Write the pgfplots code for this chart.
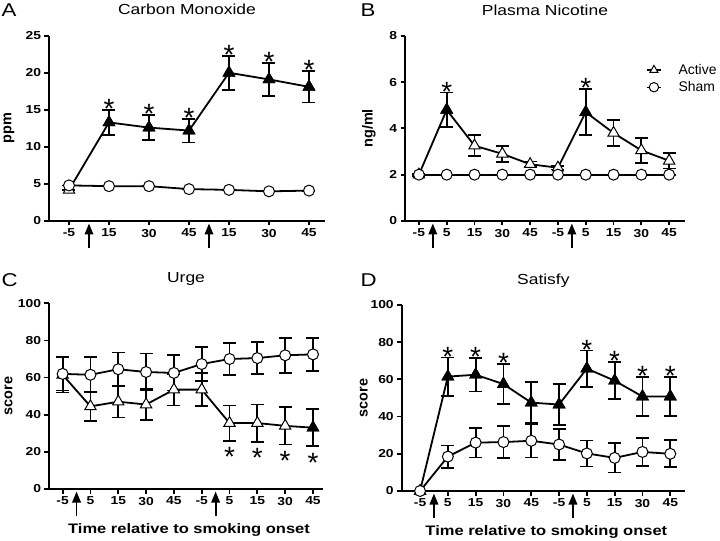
\documentclass[border=0pt]{standalone}
\usepackage{fontspec}
\setmainfont{Liberation Sans}
\usepackage{graphicx}
\usepackage{pgfplots}
\pgfplotsset{compat=1.18}
\usetikzlibrary{arrows.meta}
\newcommand{\sx}[1]{\scalebox{1.2}[1]{#1}}
\newcommand{\arr}[1]{\draw[line width=1.9bp, -{Triangle[length=11bp,width=8.5bp]}] ([yshift=-27bp]axis cs:#1,0) -- ([yshift=-2.5bp]axis cs:#1,0);}
\newcommand{\stU}[2]{\node[anchor=base, inner sep=0, font=\fontsize{28}{28}\selectfont] at ([yshift=-8.6bp]axis cs:#1,#2) {*};}
\newcommand{\stD}[2]{\node[anchor=base, inner sep=0, font=\fontsize{28}{28}\selectfont] at ([yshift=-26bp]axis cs:#1,#2) {*};}
\pgfplotsset{
  panel/.style={
    scale only axis,
    axis x line*=bottom, axis y line*=left,
    axis line style={line width=1.8bp, -},
    every tick/.style={line width=1.8bp, black},
    major tick length=4.5bp,
    tick align=outside,
    clip=false,
    ymin=0,
    tick label style={font=\bfseries\fontsize{11.6}{13}\selectfont},
    /pgf/number format/assume math mode=true,
    yticklabel={\sx{\pgfmathprintnumber{\tick}}},
    every axis y label/.style={rotate=90, anchor=center, font=\bfseries\fontsize{14.5}{16}\selectfont},
    every axis x label/.style={at={([yshift=-44bp,xshift=3bp]axis description cs:0.5,0)}, anchor=base, font=\bfseries\fontsize{13.8}{16}\selectfont},
    every axis title/.style={at={([yshift=20.7bp]axis description cs:0.5,1)}, anchor=base, font=\fontsize{14.6}{16}\selectfont},
  },
  ebars/.style={error bars/.cd, y dir=both, y explicit,
    error bar style={line width=1.8bp, black},
    error mark options={rotate=90, mark size=6.5bp, line width=1.8bp, black}},
  act/.style={black, line width=1.8bp, mark=triangle*, mark size=6.5bp,
    mark options={fill=white, draw=black, line width=1bp}, ebars},
  sham/.style={black, line width=1.8bp, mark=*, mark size=5.5bp,
    mark options={fill=white, draw=black, line width=1bp}, ebars},
  fil/.style={only marks, mark=triangle*, mark size=6.5bp,
    mark options={fill=black, draw=black, line width=1bp}, forget plot},
}
\begin{document}
\begin{tikzpicture}
\useasboundingbox (0,0) rectangle (720bp,541bp);

\node[anchor=base west, inner sep=0, font=\fontsize{18.6}{20}\selectfont] at (1.5bp,524.3bp) {\sx{A}};
\node[anchor=base west, inner sep=0, font=\fontsize{18.6}{20}\selectfont] at (360.5bp,524.3bp) {\sx{B}};
\node[anchor=base west, inner sep=0, font=\fontsize{18.6}{20}\selectfont] at (1.5bp,254.3bp) {\sx{C}};
\node[anchor=base west, inner sep=0, font=\fontsize{18.6}{20}\selectfont] at (360.5bp,254.3bp) {\sx{D}};

% ---------------- A
\begin{axis}[panel, at={(49bp,320bp)}, anchor=south west, width=276bp, height=185.3bp,
  xmin=-0.5, xmax=6.4, ymax=25, ytick={0,5,...,25},
  xtick={0,...,6}, xticklabels={\sx{-5},\sx{15},\sx{30},\sx{45},\sx{15},\sx{30},\sx{45}},
  ylabel={ppm}, every axis y label/.append style={at={([xshift=-40bp]axis description cs:0,0.5)}},
  title={\sx{Carbon Monoxide}}]
\addplot[act] table[x=x,y=y,y error=e,row sep=\\]{x y e\\ 0 4.2 0\\ 1 13.3 1.7\\ 2 12.6 1.7\\ 3 12.2 1.6\\ 4 20.0 2.3\\ 5 19.1 2.2\\ 6 18.1 2.1\\};
\addplot[sham] table[x=x,y=y,y error=e,row sep=\\]{x y e\\ 0 4.8 0\\ 1 4.7 0\\ 2 4.7 0\\ 3 4.3 0\\ 4 4.2 0\\ 5 4.0 0\\ 6 4.1 0\\};
\addplot[fil] table[x=x,y=y,row sep=\\]{x y\\ 1 13.3\\ 2 12.6\\ 3 12.2\\ 4 20.0\\ 5 19.1\\ 6 18.1\\};
\arr{0.5}\arr{3.5}
\stU{1}{15.0}\stU{2}{14.3}\stU{3}{13.8}\stU{4}{22.3}\stU{5}{21.3}\stU{6}{20.2}
\end{axis}

% ---------------- B
\begin{axis}[panel, at={(405bp,320bp)}, anchor=south west, width=280bp, height=185.3bp,
  xmin=-0.5, xmax=9.57, ymax=8, ytick={0,2,...,8},
  xtick={0,...,9}, xticklabels={\sx{-5},\sx{5},\sx{15},\sx{30},\sx{45},\sx{-5},\sx{5},\sx{15},\sx{30},\sx{45}},
  ylabel={ng/ml}, every axis y label/.append style={at={([xshift=-36bp]axis description cs:0,0.5)}},
  title={\sx{Plasma Nicotine}},
  legend style={draw=none, fill=none, at={(0.861,0.768)}, anchor=west, inner sep=0pt,
    font=\fontsize{14}{16}\selectfont, row sep=1.5bp,
    /tikz/every odd column/.append style={column sep=15bp}},
  legend cell align=left,
  legend image code/.code={\draw[mark repeat=2, mark phase=2, #1, line width=1.3bp, mark size=4.7bp] plot coordinates {(0bp,0bp) (7bp,0bp) (14bp,0bp)};}]
\addplot[act] table[x=x,y=y,y error=e,row sep=\\]{x y e\\ 0 2.0 0.05\\ 1 4.8 0.75\\ 2 3.25 0.45\\ 3 2.9 0.35\\ 4 2.45 0.12\\ 5 2.3 0.08\\ 6 4.7 1.0\\ 7 3.8 0.57\\ 8 3.05 0.53\\ 9 2.6 0.33\\};
\addlegendentry{Active}
\addplot[sham] table[x=x,y=y,y error=e,row sep=\\]{x y e\\ 0 2 0\\ 1 2 0\\ 2 2 0\\ 3 2 0\\ 4 2 0\\ 5 2 0\\ 6 2 0\\ 7 2 0\\ 8 2 0\\ 9 2 0\\};
\addlegendentry{Sham}
\addplot[fil] table[x=x,y=y,row sep=\\]{x y\\ 1 4.8\\ 6 4.7\\};
\arr{0.5}\arr{5.5}
\stU{1}{5.55}\stU{6}{5.7}
\end{axis}

% ---------------- C
\begin{axis}[panel, at={(49bp,52bp)}, anchor=south west, width=274bp, height=185.7bp,
  xmin=-0.49, xmax=9.36, ymax=100, ytick={0,20,...,100},
  xtick={0,...,9}, xticklabels={\sx{-5},\sx{5},\sx{15},\sx{30},\sx{45},\sx{-5},\sx{5},\sx{15},\sx{30},\sx{45}},
  ylabel={score}, every axis y label/.append style={at={([xshift=-40.5bp]axis description cs:0,0.5)}},
  xlabel={\sx{Time relative to smoking onset}},
  title={\sx{Urge}}]
\addplot[act] table[x=x,y=y,y error=e,row sep=\\]{x y e\\ 0 61.5 9.5\\ 1 44.5 8\\ 2 47 8.5\\ 3 45.5 8.5\\ 4 53.5 8.5\\ 5 53.5 9\\ 6 35.5 9.5\\ 7 35.5 10\\ 8 34 10\\ 9 33 10\\};
\addplot[sham] table[x=x,y=y,y error=e,row sep=\\]{x y e\\ 0 62 9\\ 1 61.5 9.5\\ 2 64.5 9\\ 3 63 10\\ 4 62.5 9.5\\ 5 67.3 9.3\\ 6 70 8.5\\ 7 70.5 8.5\\ 8 72 9.5\\ 9 72.5 9\\};
\addplot[fil] table[x=x,y=y,row sep=\\]{x y\\ 9 33\\};
\arr{0.5}\arr{5.5}
\stD{6}{26}\stD{7}{25.5}\stD{8}{24}\stD{9}{23}
\end{axis}

% ---------------- D
\begin{axis}[panel, at={(401.7bp,50bp)}, anchor=south west, width=283.3bp, height=186bp,
  xmin=-0.66, xmax=9.53, ymax=100, ytick={0,20,...,100},
  xtick={0,...,9}, xticklabels={\sx{-5},\sx{5},\sx{15},\sx{30},\sx{45},\sx{-5},\sx{5},\sx{15},\sx{30},\sx{45}},
  ylabel={score}, every axis y label/.append style={at={([xshift=-38bp]axis description cs:0,0.5)}},
  xlabel={\sx{Time relative to smoking onset}},
  title={\sx{Satisfy}}]
\addplot[act] table[x=x,y=y,y error=e,row sep=\\]{x y e\\ 0 0 0\\ 1 61.5 10.3\\ 2 62.5 9\\ 3 57.5 10.8\\ 4 47.5 11\\ 5 46.5 11.2\\ 6 65.8 9.7\\ 7 59.3 10\\ 8 50.8 10.3\\ 9 50.8 10.3\\};
\addplot[fil] table[x=x,y=y,row sep=\\]{x y\\ 1 61.5\\ 2 62.5\\ 3 57.5\\ 4 47.5\\ 5 46.5\\ 6 65.8\\ 7 59.3\\ 8 50.8\\ 9 50.8\\};
\addplot[sham] table[x=x,y=y,y error=e,row sep=\\]{x y e\\ 0 0 0\\ 1 18.5 6\\ 2 26 8\\ 3 26.3 8.7\\ 4 27 9\\ 5 25 8.3\\ 6 20.2 7\\ 7 17.8 7.9\\ 8 21 7.5\\ 9 20 7.3\\};
\arr{0.5}\arr{5.5}
\stU{1}{71.8}\stU{2}{71.5}\stU{3}{68.3}\stU{6}{75.5}\stU{7}{69.3}\stU{8}{61.1}\stU{9}{61.1}
\end{axis}
\end{tikzpicture}
\end{document}
